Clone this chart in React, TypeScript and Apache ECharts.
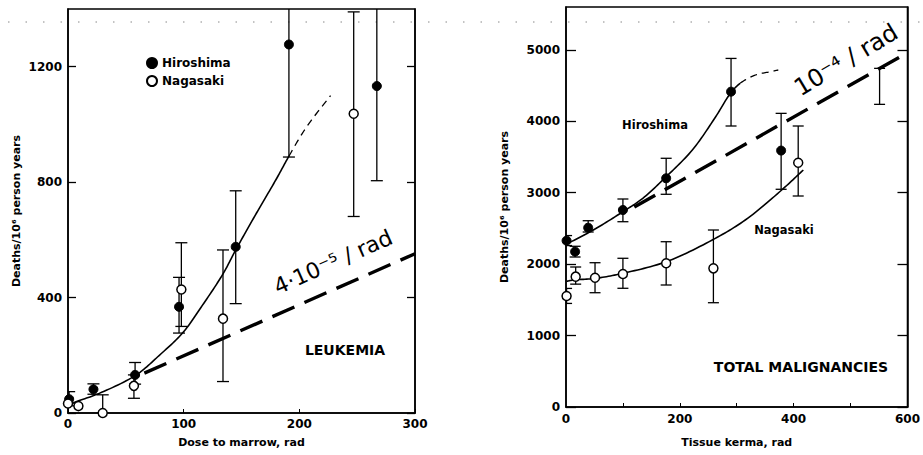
import React, { useEffect, useRef } from "react";
import * as echarts from "echarts";

// ---------- Leukemia panel (left) ----------
const leukHiroX = [1, 22, 58, 96, 145, 191, 267];
const leukHiroY = [48, 82, 132, 368, 576, 1277, 1133];
const leukHiroLo = [25, 65, 100, 277, 379, 887, 805];
const leukHiroHi = [74, 101, 175, 470, 770, 1500, 1500];

const leukNagaX = [0, 9, 30, 57, 98, 134, 247];
const leukNagaY = [33, 24, 0, 94, 428, 327, 1037];
const leukNagaLo = [null, null, 0, 51, 300, 109, 681];
const leukNagaHi = [null, null, 63, 132, 590, 565, 1390];

// fitted curve: solid up to index leukFitSolidEnd, dashed afterwards
const leukFitX = [1, 7, 27, 59, 79, 99, 116, 134, 145, 163, 180, 191, 206, 227];
const leukFitY = [28, 39, 68, 132, 200, 277, 372, 482, 565, 693, 810, 890, 990, 1100];
const leukFitSolidEnd = 11;
const leukLinX = [66, 300];
const leukLinY = [138, 552];

const leukXTicks = [0, 100, 200, 300];
const leukYTicks = [0, 400, 800, 1200];

// ---------- Total malignancies panel (right) ----------
const totHiroX = [1, 16, 39, 100, 176, 290, 378];
const totHiroY = [2329, 2175, 2510, 2758, 3202, 4415, 3590];
const totHiroLo = [2260, 2100, 2450, 2594, 2978, 3934, 3048];
const totHiroHi = [2400, 2250, 2608, 2912, 3482, 4880, 4111];
const totExtraBarX = [551];
const totExtraBarLo = [4237];
const totExtraBarHi = [4741];

const totNagaX = [1, 17, 51, 100, 176, 259, 408];
const totNagaY = [1554, 1825, 1810, 1862, 2012, 1941, 3420];
const totNagaLo = [1450, 1720, 1600, 1662, 1708, 1460, 2954];
const totNagaHi = [1660, 1960, 2020, 2082, 2314, 2478, 3934];

const totHiroFitX = [1, 48, 100, 135, 176, 222, 263, 289, 306, 333, 359, 373];
const totHiroFitY = [2280, 2478, 2734, 2922, 3224, 3598, 4064, 4392, 4532, 4648, 4694, 4718];
const totHiroFitSolidEnd = 8;
const totNagaFitX = [1, 13, 51, 100, 176, 257, 315, 379, 417];
const totNagaFitY = [1760, 1778, 1800, 1872, 2034, 2338, 2618, 3038, 3318];
const totLinX = [120, 600];
const totLinY = [2800, 4960];

const totXTicks = [0, 200, 400, 600];
const totXMinorTicks = [100, 200, 300, 400, 500];
const totYTicks = [0, 1000, 2000, 3000, 4000, 5000];

const FONT = "DejaVu Sans";

const zip = (xs: number[], ys: (number | null)[]) => xs.map((x, i) => [x, ys[i]]);
const bars = (xs: number[], lo: (number | null)[], hi: (number | null)[]) =>
  xs.map((x, i) => [x, lo[i], hi[i]]).filter((d) => d[1] != null && d[2] != null);

const renderErr = (capW: number) => (params: any, api: any) => {
  const x = api.value(0);
  const lo = api.value(1);
  const hi = api.value(2);
  const p1 = api.coord([x, lo]);
  const p2 = api.coord([x, hi]);
  const st = { stroke: "#000", lineWidth: 1.3 };
  return {
    type: "group",
    children: [
      { type: "line", shape: { x1: p1[0], y1: p1[1], x2: p2[0], y2: p2[1] }, style: st },
      { type: "line", shape: { x1: p1[0] - capW, y1: p1[1], x2: p1[0] + capW, y2: p1[1] }, style: st },
      { type: "line", shape: { x1: p2[0] - capW, y1: p2[1], x2: p2[0] + capW, y2: p2[1] }, style: st },
    ],
  };
};

// centripetal Catmull-Rom through pixel points; returns sampled points per segment
function splineSegments(P: number[][], n = 14): number[][][] {
  const segs: number[][][] = [];
  const m = P.length;
  const get = (i: number) => {
    if (i < 0) return [2 * P[0][0] - P[1][0], 2 * P[0][1] - P[1][1]];
    if (i >= m) return [2 * P[m - 1][0] - P[m - 2][0], 2 * P[m - 1][1] - P[m - 2][1]];
    return P[i];
  };
  const dist = (a: number[], b: number[]) => Math.max(1e-3, Math.pow(Math.hypot(a[0] - b[0], a[1] - b[1]), 0.5));
  for (let i = 0; i < m - 1; i++) {
    const p0 = get(i - 1), p1 = get(i), p2 = get(i + 1), p3 = get(i + 2);
    const t0 = 0, t1 = t0 + dist(p0, p1), t2 = t1 + dist(p1, p2), t3 = t2 + dist(p2, p3);
    const seg: number[][] = [];
    for (let k = 0; k <= n; k++) {
      const t = t1 + ((t2 - t1) * k) / n;
      const lerp = (a: number[], b: number[], ta: number, tb: number) => {
        const u = (t - ta) / (tb - ta);
        return [a[0] * (1 - u) + b[0] * u, a[1] * (1 - u) + b[1] * u];
      };
      const A1 = lerp(p0, p1, t0, t1);
      const A2 = lerp(p1, p2, t1, t2);
      const A3 = lerp(p2, p3, t2, t3);
      const B1 = lerp(A1, A2, t0, t2);
      const B2 = lerp(A2, A3, t1, t3);
      seg.push(lerp(B1, B2, t1, t2));
    }
    segs.push(seg);
  }
  return segs;
}

const renderCurve = (xs: number[], ys: number[], solidEnd: number) => (params: any, api: any) => {
  const pts = xs.map((x, i) => api.coord([x, ys[i]]));
  const segs = splineSegments(pts);
  const solid: number[][] = [];
  const dashed: number[][] = [];
  segs.forEach((s, i) => {
    if (i < solidEnd) solid.push(...(solid.length ? s.slice(1) : s));
    else dashed.push(...(dashed.length ? s.slice(1) : s));
  });
  const children: any[] = [];
  if (solid.length)
    children.push({ type: "polyline", shape: { points: solid }, style: { stroke: "#000", lineWidth: 1.6, fill: null } });
  if (dashed.length)
    children.push({
      type: "polyline", shape: { points: dashed },
      style: { stroke: "#000", lineWidth: 1.3, fill: null, lineDash: [7, 5] },
    });
  return { type: "group", children };
};

export default function App() {
  const ref = useRef<HTMLDivElement>(null);
  useEffect(() => {
    if (!ref.current) return;
    const chart = echarts.init(ref.current, null, { renderer: "svg" });
    const fmt = (v: number) => String(v);
    const tickLabel = { fontFamily: FONT, fontWeight: "bold" as const, fontSize: 12, color: "#000", formatter: fmt };
    const nameStyle = { fontFamily: FONT, fontWeight: "bold" as const, fontSize: 11, color: "#000" };
    const axLine = { show: true, lineStyle: { color: "#000", width: 1.5 } };

    const filled = { color: "#000", borderColor: "#000", borderWidth: 1, opacity: 1 };
    const open = { color: "#fff", borderColor: "#000", borderWidth: 1.5, opacity: 1 };

    const option: any = {
      animation: false,
      backgroundColor: "#fff",
      legend: {
        data: ["Hiroshima", "Nagasaki"],
        orient: "vertical",
        left: 141,
        top: 52,
        icon: "circle",
        itemWidth: 10,
        itemHeight: 10,
        itemGap: 6,
        textStyle: { fontFamily: FONT, fontWeight: "bold", fontSize: 12, color: "#000" },
        selectedMode: false,
      },
      grid: [
        { left: 68, top: 9, width: 347, height: 404, show: true, borderColor: "#000", borderWidth: 1.5, backgroundColor: "transparent" },
        { left: 566, top: 7, width: 344, height: 400, show: true, borderColor: "#000", borderWidth: 1.5, backgroundColor: "transparent" },
      ],
      xAxis: [
        {
          type: "value", gridIndex: 0, min: 0, max: 300,
          name: "Dose to marrow, rad", nameLocation: "middle", nameGap: 24, nameTextStyle: nameStyle,
          axisLine: axLine, splitLine: { show: false },
          axisTick: { inside: true, length: 4, customValues: leukXTicks, lineStyle: { color: "#000" } },
          axisLabel: { ...tickLabel, margin: 5, customValues: leukXTicks },
        },
        {
          type: "value", gridIndex: 1, min: 0, max: 600,
          name: "Tissue kerma, rad", nameLocation: "middle", nameGap: 30, nameTextStyle: nameStyle,
          axisLine: axLine, splitLine: { show: false },
          axisTick: { inside: true, length: 4, customValues: totXMinorTicks, lineStyle: { color: "#000" } },
          axisLabel: { ...tickLabel, margin: 6, customValues: totXTicks },
        },
      ],
      yAxis: [
        {
          type: "value", gridIndex: 0, min: 0, max: 1400,
          name: "Deaths/10⁶ person years", nameLocation: "middle", nameGap: 46, nameTextStyle: nameStyle,
          axisLine: axLine, splitLine: { show: false },
          axisTick: { inside: true, length: 8, customValues: leukYTicks, lineStyle: { color: "#000", width: 1.3 } },
          axisLabel: { ...tickLabel, margin: 6, customValues: leukYTicks },
        },
        {
          type: "value", gridIndex: 0, min: 0, max: 1400, position: "right",
          axisLine: axLine, splitLine: { show: false },
          axisTick: { inside: true, length: 8, customValues: leukYTicks, lineStyle: { color: "#000", width: 1.3 } },
          axisLabel: { show: false },
        },
        {
          type: "value", gridIndex: 1, min: 0, max: 5600,
          name: "Deaths/10⁶ person years", nameLocation: "middle", nameGap: 56, nameTextStyle: nameStyle,
          axisLine: axLine, splitLine: { show: false },
          axisTick: { inside: true, length: 10, customValues: totYTicks, lineStyle: { color: "#000", width: 1.3 } },
          axisLabel: { ...tickLabel, margin: 6, customValues: totYTicks },
        },
        {
          type: "value", gridIndex: 1, min: 0, max: 5600, position: "right",
          axisLine: axLine, splitLine: { show: false },
          axisTick: { inside: true, length: 10, customValues: totYTicks, lineStyle: { color: "#000", width: 1.3 } },
          axisLabel: { show: false },
        },
      ],
      series: [
        // ---- left panel ----
        {
          name: "leukFit", type: "custom", xAxisIndex: 0, yAxisIndex: 0, clip: true,
          renderItem: renderCurve(leukFitX, leukFitY, leukFitSolidEnd), data: [[leukFitX[0], leukFitY[0]]], z: 3,
        },
        {
          name: "leukLin", type: "line", xAxisIndex: 0, yAxisIndex: 0, symbol: "none",
          data: zip(leukLinX, leukLinY), lineStyle: { color: "#000", width: 3.4, type: [24, 11] }, z: 3,
        },
        {
          name: "leukHiroErr", type: "custom", xAxisIndex: 0, yAxisIndex: 0, clip: true,
          renderItem: renderErr(6), data: bars(leukHiroX, leukHiroLo, leukHiroHi), encode: { x: 0, y: [1, 2] }, z: 4,
        },
        {
          name: "leukNagaErr", type: "custom", xAxisIndex: 0, yAxisIndex: 0, clip: true,
          renderItem: renderErr(6), data: bars(leukNagaX, leukNagaLo, leukNagaHi), encode: { x: 0, y: [1, 2] }, z: 4,
        },
        {
          name: "Hiroshima", type: "scatter", xAxisIndex: 0, yAxisIndex: 0, symbol: "circle", symbolSize: 9,
          data: zip(leukHiroX, leukHiroY), itemStyle: filled, clip: false, z: 6,
        },
        {
          name: "Nagasaki", type: "scatter", xAxisIndex: 0, yAxisIndex: 0, symbol: "circle", symbolSize: 9,
          data: zip(leukNagaX, leukNagaY), itemStyle: open, clip: false, z: 6,
        },
        // ---- right panel ----
        {
          name: "totHiroFit", type: "custom", xAxisIndex: 1, yAxisIndex: 2, clip: true,
          renderItem: renderCurve(totHiroFitX, totHiroFitY, totHiroFitSolidEnd), data: [[totHiroFitX[0], totHiroFitY[0]]], z: 3,
        },
        {
          name: "totNagaFit", type: "custom", xAxisIndex: 1, yAxisIndex: 2, clip: true,
          renderItem: renderCurve(totNagaFitX, totNagaFitY, totNagaFitX.length), data: [[totNagaFitX[0], totNagaFitY[0]]], z: 3,
        },
        {
          name: "totLin", type: "line", xAxisIndex: 1, yAxisIndex: 2, symbol: "none",
          data: zip(totLinX, totLinY), lineStyle: { color: "#000", width: 3.4, type: [24, 11] }, z: 3,
        },
        {
          name: "totHiroErr", type: "custom", xAxisIndex: 1, yAxisIndex: 2, clip: true,
          renderItem: renderErr(5.5), data: bars(totHiroX, totHiroLo, totHiroHi), encode: { x: 0, y: [1, 2] }, z: 4,
        },
        {
          name: "totExtraErr", type: "custom", xAxisIndex: 1, yAxisIndex: 2, clip: true,
          renderItem: renderErr(5.5), data: bars(totExtraBarX, totExtraBarLo, totExtraBarHi), encode: { x: 0, y: [1, 2] }, z: 4,
        },
        {
          name: "totNagaErr", type: "custom", xAxisIndex: 1, yAxisIndex: 2, clip: true,
          renderItem: renderErr(5.5), data: bars(totNagaX, totNagaLo, totNagaHi), encode: { x: 0, y: [1, 2] }, z: 4,
        },
        {
          name: "Hiroshima", type: "scatter", xAxisIndex: 1, yAxisIndex: 2, symbol: "circle", symbolSize: 9,
          data: zip(totHiroX, totHiroY), itemStyle: filled, clip: false, z: 6,
        },
        {
          name: "Nagasaki", type: "scatter", xAxisIndex: 1, yAxisIndex: 2, symbol: "circle", symbolSize: 9,
          data: zip(totNagaX, totNagaY), itemStyle: open, clip: false, z: 6,
        },
      ],
      graphic: [
        {
          type: "line", shape: { x1: 8, y1: 22, x2: 920, y2: 22 },
          style: { stroke: "#888", lineWidth: 1, lineDash: [1.5, 16] }, silent: true, z: 1,
        },
        {
          type: "text", x: 345, y: 350,
          style: { text: "LEUKEMIA", font: `bold 14px '${FONT}'`, fill: "#000", align: "center", verticalAlign: "middle" },
        },
        {
          type: "text", x: 333, y: 262, rotation: (24 * Math.PI) / 180,
          style: { text: "4·10⁻⁵ / rad", font: `22px '${FONT}'`, fill: "#000", align: "center", verticalAlign: "middle" },
        },
        {
          type: "text", x: 801, y: 367,
          style: { text: "TOTAL MALIGNANCIES", font: `bold 14px '${FONT}'`, fill: "#000", align: "center", verticalAlign: "middle" },
        },
        {
          type: "text", x: 655, y: 125,
          style: { text: "Hiroshima", font: `bold 11.5px '${FONT}'`, fill: "#000", align: "center", verticalAlign: "middle" },
        },
        {
          type: "text", x: 784, y: 230,
          style: { text: "Nagasaki", font: `bold 11.5px '${FONT}'`, fill: "#000", align: "center", verticalAlign: "middle" },
        },
        {
          type: "text", x: 846, y: 60, rotation: (31 * Math.PI) / 180,
          style: { text: "10⁻⁴ / rad", font: `24px '${FONT}'`, fill: "#000", align: "center", verticalAlign: "middle" },
        },
      ],
    };
    chart.setOption(option);
    return () => chart.dispose();
  }, []);
  return (
    <div
      ref={ref}
      style={{ position: "fixed", left: 0, top: 0, width: 923, height: 455, background: "#fff" }}
    />
  );
}
